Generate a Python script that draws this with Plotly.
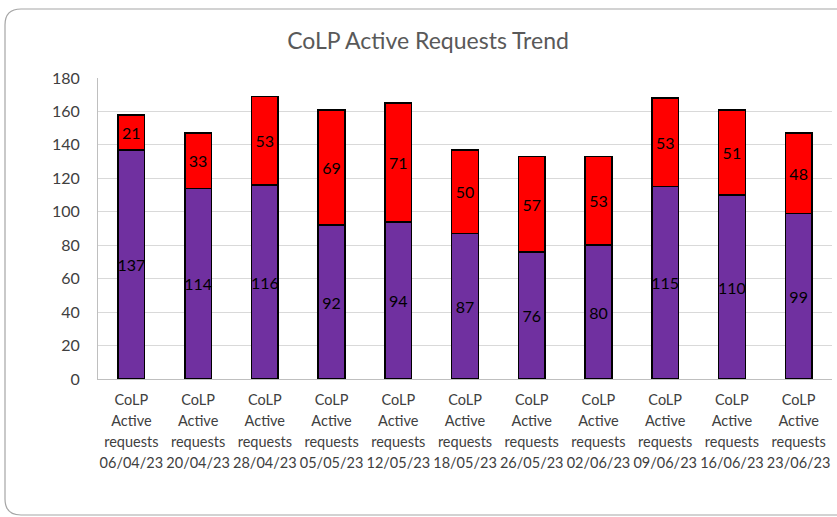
import plotly.graph_objects as go

dates = ["06/04/23", "20/04/23", "28/04/23", "05/05/23", "12/05/23", "18/05/23",
         "26/05/23", "02/06/23", "09/06/23", "16/06/23", "23/06/23"]
label_lines = ["CoLP", "Active", "requests"]
categories = ["<br>".join(f'<span style="font-size:14.5px">{t}</span>' for t in label_lines + [d])
              for d in dates]
purple_vals = [137, 114, 116, 92, 94, 87, 76, 80, 115, 110, 99]
red_vals = [21, 33, 53, 69, 71, 50, 57, 53, 53, 51, 48]

W, H = 837, 517
L, R, T, B = 98, 5, 78, 138
pw, ph = W - L - R, H - T - B

FONT = "Lato, Carlito, Calibri, sans-serif"

fig = go.Figure()
for vals, col in [(purple_vals, "#7030A0"), (red_vals, "#FF0000")]:
    fig.add_trace(go.Bar(x=categories, y=vals, marker=dict(color=col, line=dict(color="#000000", width=1.5)),
                         text=vals, textposition="inside", insidetextanchor="middle", textangle=0,
                         textfont=dict(color="#000000", size=16, family=FONT), constraintext="none",
                         hoverinfo="skip"))

def px(x):
    return (x - L) / pw

def py(y):
    return (H - B - y) / ph

x0, y0, x1, y1, r = 5, 9, 845, 515, 16
rx, ry = r / pw, r / ph
path = (f"M {px(x1)},{py(y0)} L {px(x0)+rx},{py(y0)} Q {px(x0)},{py(y0)} {px(x0)},{py(y0)-ry} "
        f"L {px(x0)},{py(y1)+ry} Q {px(x0)},{py(y1)} {px(x0)+rx},{py(y1)} L {px(x1)},{py(y1)}")

fig.update_layout(
    width=W, height=H,
    margin=dict(l=L, r=R, t=T, b=B, autoexpand=False),
    barmode="stack", bargap=0.6, showlegend=False,
    plot_bgcolor="white", paper_bgcolor="white",
    title=dict(text="CoLP Active Requests Trend", x=428 / W, xref="container", xanchor="center",
               y=1 - 41 / H, yref="container", yanchor="middle", font=dict(family=FONT, size=23, color="#595959")),
    font=dict(family=FONT, color="#595959", size=15),
    shapes=[dict(type="path", xref="paper", yref="paper", path=path,
                 line=dict(color="#a6a6a6", width=1.2), layer="below")],
)
fig.update_yaxes(range=[0, 180], dtick=20, showgrid=True, gridcolor="#d9d9d9", gridwidth=1,
                 showline=True, linecolor="#bfbfbf", linewidth=1, zeroline=False, automargin=False,
                 ticks="", ticklabelstandoff=14, tickfont=dict(size=16, color="#404040", family=FONT))
fig.update_xaxes(showline=True, linecolor="#bfbfbf", linewidth=1, ticks="", automargin=False,
                 tickfont=dict(size=16, color="#404040", family=FONT), tickangle=0, ticklabelstandoff=6)

fig.write_html("out.html", config={"displayModeBar": False},
               post_script="document.body.style.margin='0';document.body.style.overflow='hidden';")
